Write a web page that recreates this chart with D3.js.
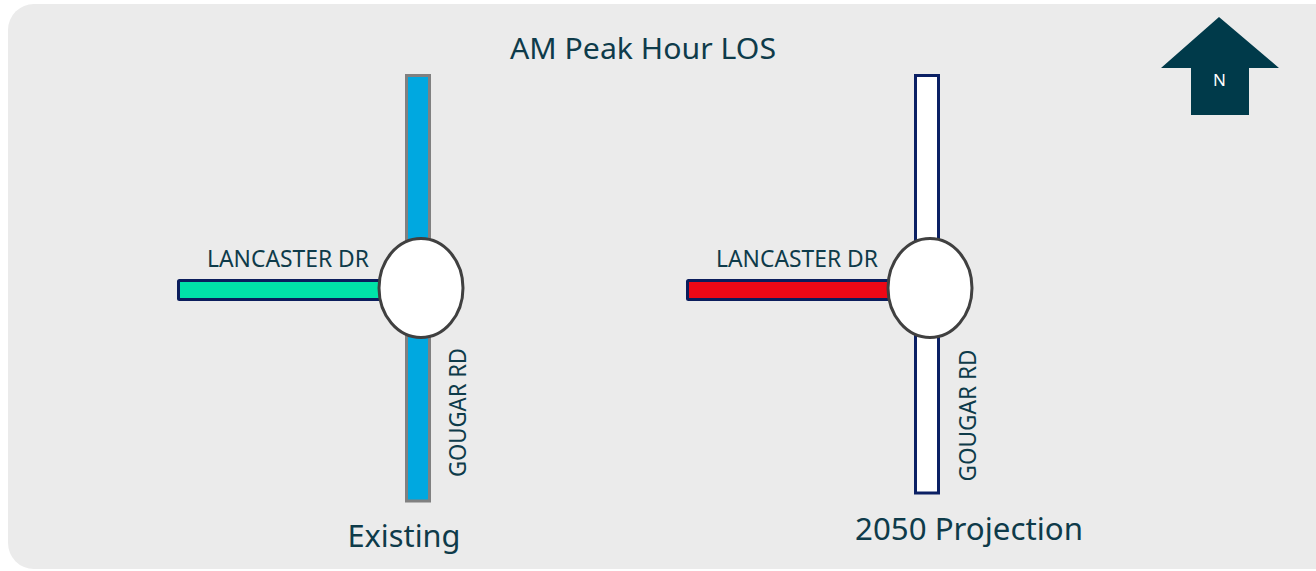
<!DOCTYPE html>
<html>
<head>
<meta charset="utf-8">
<script src="https://cdn.jsdelivr.net/npm/d3@7"></script>
<style>
  html, body { margin: 0; padding: 0; background: #fff; }
  svg { display: block; }
</style>
</head>
<body>
<div id="chart"></div>
<script>
const title = 'AM Peak Hour LOS';
const scenarios = ['Existing', '2050 Projection'];
const westApproach = ['LANCASTER DR', 'LANCASTER DR'];
const northSouthRoad = ['GOUGAR RD', 'GOUGAR RD'];
// LOS colour of each approach per scenario
const westFill = ['#00e3a8', '#ee0816'];
const westStroke = ['#0b1d5c', '#0b1d5c'];
const nsFill = ['#00a8e0', '#ffffff'];
const nsStroke = ['#808080', '#0b2064'];
const nsBottom = [501, 493];
const labelBaseline = [547, 540];
const labelWidth = [113, 228];
const labelShift = [-17, 39];

const W = 1316, H = 571;
const ink = '#0e3b4a';
const font = '"Noto Sans", "Open Sans", sans-serif';

const svg = d3.select('#chart').append('svg')
  .attr('width', W).attr('height', H);

svg.append('rect')
  .attr('x', 8).attr('y', 4)
  .attr('width', W + 30).attr('height', H - 6)
  .attr('rx', 26)
  .attr('fill', '#ebebeb');

svg.append('text')
  .attr('x', 643).attr('y', 59)
  .attr('text-anchor', 'middle')
  .attr('font-family', font).attr('font-size', 29)
  .attr('textLength', 266).attr('lengthAdjust', 'spacingAndGlyphs')
  .attr('fill', ink)
  .text(title);

// intersection centres
const x = d3.scalePoint().domain(scenarios).range([421, 930]);

scenarios.forEach((s, i) => {
  const cx = x(s), cy = 288;
  const g = svg.append('g');

  // north-south road
  g.append('rect')
    .attr('x', cx - 14.5).attr('y', 75.5)
    .attr('width', 23).attr('height', nsBottom[i] - 75.5)
    .attr('fill', nsFill[i])
    .attr('stroke', nsStroke[i]).attr('stroke-width', 3);

  // west approach
  const wx = 178.5 + (cx - 421);
  g.append('rect')
    .attr('x', wx).attr('y', 280.5)
    .attr('width', cx - 30 - wx).attr('height', 19)
    .attr('rx', 1)
    .attr('fill', westFill[i])
    .attr('stroke', westStroke[i]).attr('stroke-width', 3);

  // roundabout
  g.append('ellipse')
    .attr('cx', cx).attr('cy', cy)
    .attr('rx', 42).attr('ry', 49.5)
    .attr('fill', '#fff')
    .attr('stroke', '#404040').attr('stroke-width', 3);

  g.append('text')
    .attr('x', cx - 52).attr('y', 267)
    .attr('text-anchor', 'end')
    .attr('font-family', font).attr('font-size', 23)
    .attr('textLength', 162).attr('lengthAdjust', 'spacingAndGlyphs')
    .attr('fill', ink)
    .text(westApproach[i]);

  g.append('text')
    .attr('transform', `translate(${cx + 45 + i},${412.5 + i * 3}) rotate(-90)`)
    .attr('text-anchor', 'middle')
    .attr('font-family', font).attr('font-size', 24)
    .attr('textLength', 129 + i * 3).attr('lengthAdjust', 'spacingAndGlyphs')
    .attr('fill', ink)
    .text(northSouthRoad[i]);

  g.append('text')
    .attr('x', cx + labelShift[i]).attr('y', labelBaseline[i])
    .attr('text-anchor', 'middle')
    .attr('font-family', font).attr('font-size', 31)
    .attr('textLength', labelWidth[i]).attr('lengthAdjust', 'spacingAndGlyphs')
    .attr('fill', ink)
    .text(s);
});

// north arrow
const arrow = svg.append('g');
arrow.append('path')
  .attr('d', 'M1219,17 L1279,68 L1249,68 L1249,115 L1191,115 L1191,68 L1161,68 Z')
  .attr('fill', '#003a4a');
arrow.append('text')
  .attr('x', 1219.5).attr('y', 86)
  .attr('text-anchor', 'middle')
  .attr('font-family', font).attr('font-size', 17)
  .attr('fill', '#fff')
  .text('N');
</script>
</body>
</html>
